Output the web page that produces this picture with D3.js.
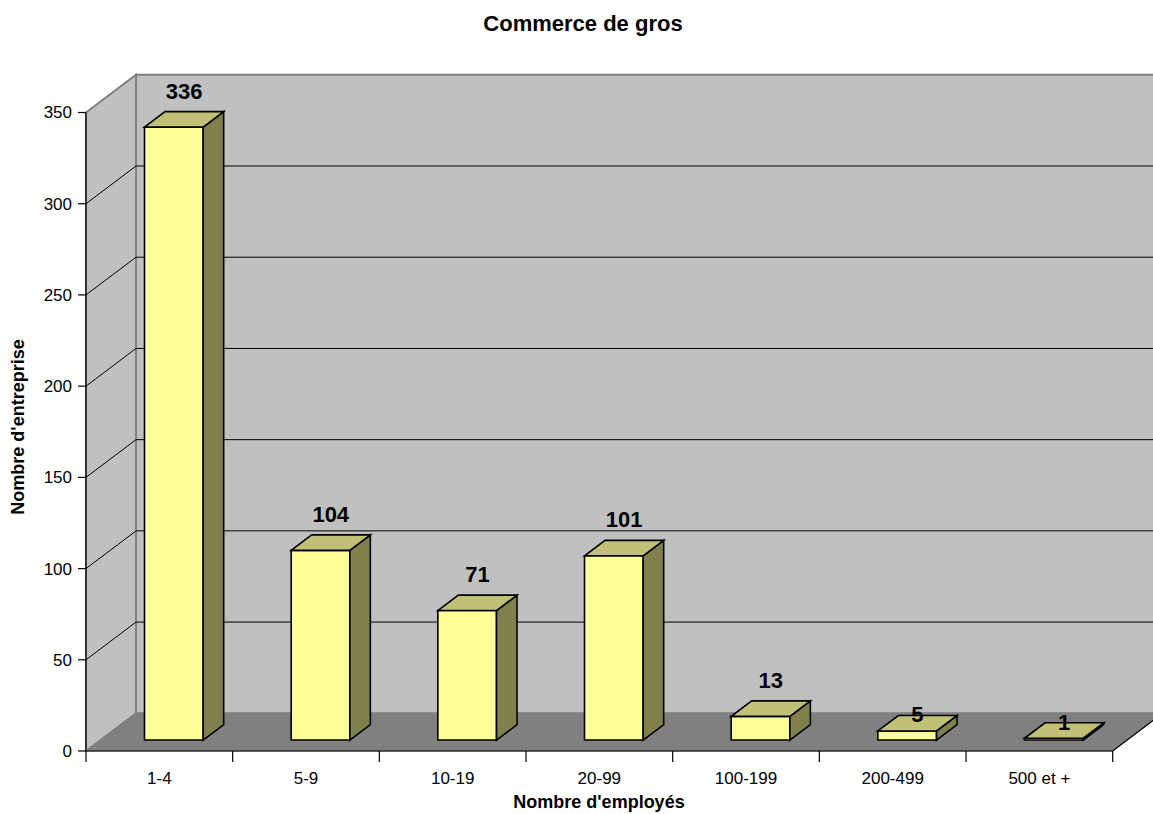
<!DOCTYPE html>
<html>
<head>
<meta charset="utf-8">
<script src="https://cdn.jsdelivr.net/npm/d3@7"></script>
<style>
  html, body { margin: 0; padding: 0; background: #ffffff; }
  svg { display: block; font-family: "Liberation Sans", Arial, sans-serif; }
</style>
</head>
<body>
<svg id="chart" width="1153" height="814"></svg>
<script>
// Number of companies by size class (employees) — wholesale trade
const categories = ["1-4", "5-9", "10-19", "20-99", "100-199", "200-499", "500 et +"];
const values = [336, 104, 71, 101, 13, 5, 1];
const yTicks = [0, 50, 100, 150, 200, 250, 300, 350];
const chartTitle = "Commerce de gros";
const xTitle = "Nombre d'employés";
const yTitle = "Nombre d'entreprise";

const svg = d3.select("#chart");

// Front plane of the 3D box
const plotLeft = 86, plotRight = 1112.7, plotBase = 751, plotTop = 112.5;
// Depth vector from front plane to back wall
const depth = { dx: 50, dy: -37.7 };
// Bars occupy this slice of the depth
const f0 = 0.29, f1 = 0.70;

const x = d3.scaleBand().domain(categories).range([plotLeft, plotRight])
  .paddingInner(0.6).paddingOuter(0.3);
const y = d3.scaleLinear().domain([0, 350]).range([plotBase, plotTop]);

const proj = (px, py, f) => [px + f * depth.dx, py + f * depth.dy];
const pts = arr => arr.map(p => p.join(",")).join(" ");

// Walls
const backX0 = plotLeft + depth.dx, backX1 = plotRight + depth.dx;
const backBase = plotBase + depth.dy, backTop = plotTop + depth.dy;

svg.append("polygon") // back wall
  .attr("points", pts([[backX0, backBase], [backX0, backTop], [backX1, backTop], [backX1, backBase]]))
  .attr("fill", "#c0c0c0").attr("stroke", "#808080").attr("stroke-width", 2);

svg.append("polygon") // side wall
  .attr("points", pts([[plotLeft, plotBase], [plotLeft, plotTop], [backX0, backTop], [backX0, backBase]]))
  .attr("fill", "#c0c0c0").attr("stroke", "#808080").attr("stroke-width", 2);

svg.append("polygon") // floor
  .attr("points", pts([[plotLeft, plotBase], [backX0, backBase], [backX1, backBase], [plotRight, plotBase]]))
  .attr("fill", "#808080").attr("stroke", "#808080").attr("stroke-width", 1);

// Gridlines on the side and back walls
const grid = yTicks.filter(v => v > 0 && v < 350);
const g = svg.append("g").attr("stroke", "#000").attr("stroke-width", 1);
grid.forEach(v => {
  const yf = y(v), [bx, by] = proj(plotLeft, yf, 1);
  g.append("line").attr("x1", plotLeft).attr("y1", yf).attr("x2", bx).attr("y2", by);
  g.append("line").attr("x1", bx).attr("y1", by).attr("x2", backX1).attr("y2", by);
});

// Floor front and right edges
svg.append("polyline")
  .attr("points", pts([[plotLeft, plotBase], [plotRight, plotBase], [backX1, backBase]]))
  .attr("fill", "none").attr("stroke", "#000").attr("stroke-width", 1.2);

// Y axis
const yAxis = svg.append("g");
yAxis.append("line").attr("x1", plotLeft).attr("x2", plotLeft).attr("y1", plotTop).attr("y2", plotBase)
  .attr("stroke", "#000").attr("stroke-width", 1.2);
yTicks.forEach(v => {
  yAxis.append("line").attr("x1", plotLeft - 8).attr("x2", plotLeft).attr("y1", y(v)).attr("y2", y(v))
    .attr("stroke", "#000").attr("stroke-width", 1.2);
  yAxis.append("text").attr("x", plotLeft - 14).attr("y", y(v)).attr("dy", "0.35em")
    .attr("text-anchor", "end").attr("font-size", 17).text(v);
});

// X axis ticks at band boundaries and category labels
const step = x.step();
const xStart = x.range()[0];
d3.range(categories.length + 1).forEach(i => {
  const xx = xStart + i * step;
  svg.append("line").attr("x1", xx).attr("x2", xx).attr("y1", plotBase).attr("y2", plotBase + 11)
    .attr("stroke", "#000").attr("stroke-width", 1.2);
});
categories.forEach(c => {
  svg.append("text").attr("x", x(c) + x.bandwidth() / 2).attr("y", 784)
    .attr("text-anchor", "middle").attr("font-size", 17).text(c);
});

// 3D bars
const frontCol = "#ffff99", topCol = "#c0c076", sideCol = "#80804c";
const bars = svg.append("g").attr("stroke", "#000").attr("stroke-width", 1.6).attr("stroke-linejoin", "miter");
const ddx = (f1 - f0) * depth.dx, ddy = (f1 - f0) * depth.dy;

categories.forEach((c, i) => {
  const v = values[i];
  const [x0, yb] = proj(x(c), y(0), f0);
  const x1 = x0 + x.bandwidth();
  const yt = y(v) + f0 * depth.dy;
  const gb = bars.append("g");
  gb.append("polygon").attr("points", pts([[x0, yb], [x0, yt], [x1, yt], [x1, yb]])).attr("fill", frontCol);
  gb.append("polygon").attr("points", pts([[x1, yb], [x1, yt], [x1 + ddx, yt + ddy], [x1 + ddx, yb + ddy]])).attr("fill", sideCol);
  gb.append("polygon").attr("points", pts([[x0, yt], [x0 + ddx, yt + ddy], [x1 + ddx, yt + ddy], [x1, yt]])).attr("fill", topCol);

  // value label above the bar (sits on the top face for very short bars)
  const backTopY = yt + ddy;
  const labelY = (yb - yt) < 15 ? backTopY + 7 : backTopY - 13;
  svg.append("text").attr("x", (x0 + x1) / 2 + ddx / 2).attr("y", labelY)
    .attr("text-anchor", "middle").attr("font-size", 22).attr("font-weight", "bold").text(v);
});

// Titles
svg.append("text").attr("x", 583).attr("y", 31).attr("text-anchor", "middle")
  .attr("font-size", 22).attr("font-weight", "bold").text(chartTitle);
svg.append("text").attr("x", 599).attr("y", 808).attr("text-anchor", "middle")
  .attr("font-size", 18).attr("font-weight", "bold").text(xTitle);
svg.append("text").attr("transform", "translate(24,427) rotate(-90)").attr("text-anchor", "middle")
  .attr("font-size", 18).attr("font-weight", "bold").text(yTitle);
</script>
</body>
</html>
